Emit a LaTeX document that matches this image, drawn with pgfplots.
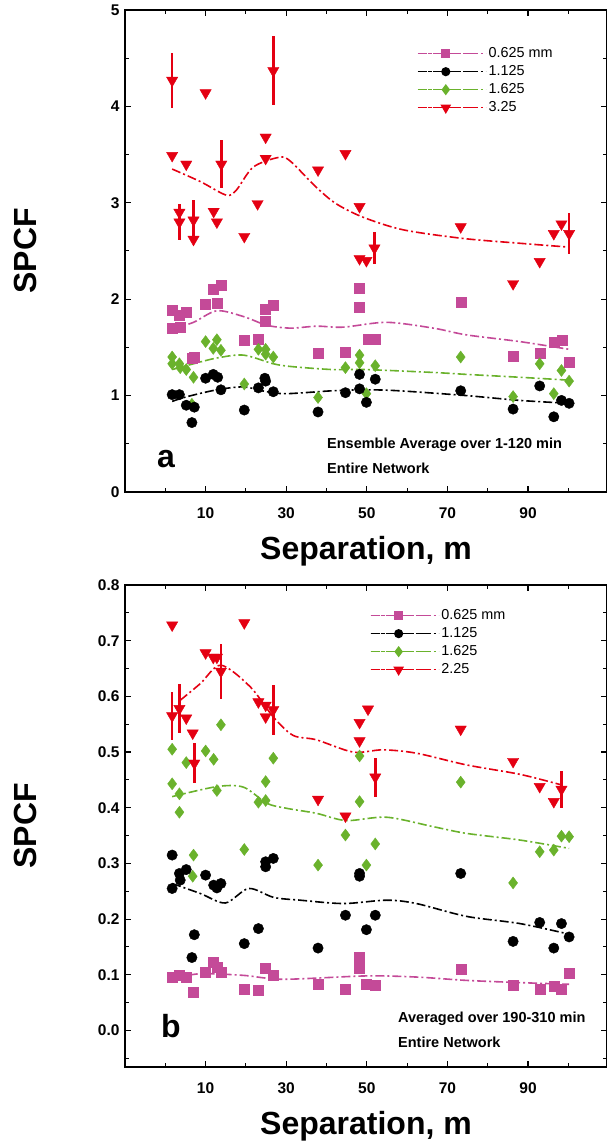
\documentclass[border=0pt]{standalone}
\usepackage{pgfplots}
\pgfplotsset{compat=1.18}
\usepackage{pgfplotstable}
\usepackage{fontspec}
\setmainfont{Liberation Sans}
\definecolor{cpink}{RGB}{196,74,152}
\definecolor{cgreen}{RGB}{106,178,44}
\definecolor{cred}{RGB}{228,0,18}

% ---------- panel a data ----------
\pgfplotstableread{
x y
1.7 1.89
1.7 1.70
3.7 1.71
3.5 1.83
5.2 1.86
6.6 1.39
7.2 1.40
10 1.95
12 2.10
13.8 2.15
12.8 1.96
19.6 1.57
23.1 1.59
24.7 1.90
24.9 1.77
26.8 1.94
37.9 1.44
44.7 1.45
48.2 2.11
48.1 1.92
50.3 1.58
52.1 1.58
73.3 1.97
86.3 1.41
92.9 1.44
96.4 1.55
98.5 1.57
100.2 1.35
}\aPink
\pgfplotstableread{
x y
1.7 1.01
3.5 1.01
5.2 0.90
7.2 0.88
6.6 0.72
10 1.18
11.9 1.22
13 1.19
13.8 1.06
19.6 0.85
23.1 1.08
24.7 1.18
24.9 1.15
26.8 1.04
37.9 0.83
44.7 1.03
48.2 1.22
48.2 1.07
49.9 0.93
52.1 1.17
73.3 1.05
86.3 0.86
92.9 1.10
96.4 0.78
98.3 0.95
100.2 0.92
}\aBlack
\pgfplotstableread{
x y
1.7 1.40
1.7 1.33
3.5 1.33
3.7 1.29
5.2 1.27
7.0 1.19
6.6 0.91
10 1.56
11.9 1.49
12.8 1.58
13.8 1.47
19.6 1.12
23.1 1.48
24.9 1.48
24.9 1.43
26.8 1.40
37.9 0.98
44.7 1.29
48.2 1.42
48.2 1.34
49.9 1.02
52.1 1.31
73.3 1.40
86.3 0.99
92.9 1.33
96.4 1.02
98.3 1.26
100.2 1.15
}\aGreen
\pgfplotstableread{
x y e
1.7 4.27 0.285
1.7 3.49 0
5.2 3.40 0
13.9 3.40 0.25
10 4.14 0
24.9 3.68 0
24.9 3.46 0
26.8 4.37 0.36
44.7 3.51 0
37.9 3.34 0
22.9 2.99 0
3.5 2.90 0
3.5 2.80 0.19
7.0 2.82 0.21
7.0 2.62 0
12 2.91 0
12.8 2.80 0
19.6 2.65 0
48.2 2.96 0
51.9 2.53 0.17
48.2 2.42 0
49.9 2.40 0
73.3 2.75 0
86.3 2.16 0
92.9 2.39 0
96.4 2.68 0
98.3 2.78 0
100.2 2.68 0.21
}\aRed

% ---------- panel b data ----------
\pgfplotstableread{
x y
1.7 0.096
3.5 0.099
5.2 0.096
6.8 0.068
10 0.105
12 0.123
12.8 0.114
13.8 0.105
19.6 0.075
23.1 0.072
24.7 0.112
26.8 0.099
37.9 0.083
44.7 0.074
48.2 0.132
48.2 0.111
49.9 0.083
52.1 0.081
73.3 0.110
86.3 0.081
92.9 0.075
96.4 0.080
98.3 0.075
100.2 0.103
}\bPink
\pgfplotstableread{
x y
1.7 0.315
1.7 0.255
3.5 0.282
3.7 0.270
5.2 0.289
7.2 0.172
6.6 0.131
10 0.279
12 0.261
12.8 0.256
13.8 0.264
19.6 0.156
23.1 0.183
24.9 0.303
24.9 0.294
26.8 0.309
37.9 0.148
44.7 0.207
48.2 0.282
48.2 0.277
49.9 0.181
52.1 0.207
73.3 0.282
86.3 0.160
92.9 0.194
96.4 0.148
98.3 0.192
100.2 0.168
}\bBlack
\pgfplotstableread{
x y
1.7 0.505
1.7 0.443
3.5 0.425
3.5 0.392
5.2 0.481
10 0.502
12 0.487
12.8 0.431
13.8 0.549
23.1 0.410
24.9 0.413
24.9 0.447
26.8 0.489
48.2 0.493
48.2 0.411
73.3 0.446
7.0 0.315
6.8 0.277
19.6 0.325
44.7 0.351
37.9 0.297
49.9 0.297
52.1 0.335
86.3 0.265
92.9 0.321
96.4 0.324
98.3 0.349
100.2 0.348
}\bGreen
\pgfplotstableread{
x y e
1.7 0.728 0
1.7 0.565 0.043
3.5 0.578 0.044
5.2 0.561 0
6.8 0.534 0
7.2 0.480 0.036
10 0.678 0
11.9 0.670 0
12.8 0.670 0
13.8 0.645 0.049
19.6 0.732 0
23.1 0.590 0
24.9 0.584 0
24.9 0.563 0
26.8 0.576 0.045
37.9 0.415 0
44.7 0.385 0
48.2 0.553 0
48.2 0.520 0
50.3 0.577 0
52.1 0.455 0.035
73.3 0.541 0
86.3 0.483 0
92.9 0.438 0
96.4 0.411 0
98.3 0.433 0.033
}\bRed

\pgfplotsset{
  legend image code/.code={
    \draw[#1, mark=none, line width=1.5pt, dash pattern=on 7pt off 3pt on 2pt off 3pt] (0pt,0pt) -- (56pt,0pt);
    \draw[#1, only marks, every mark/.append style={scale=0.72}] plot coordinates {(28pt,0pt)};
    \path (0pt,0pt) -- (68pt,0pt);
  },
  myaxis/.style={
    scale only axis, width=482pt,
    xmin=-10, xmax=109.6,
    xtick={10,30,50,70,90},
    minor xtick={0,20,40,60,80,100},
    axis line style={line width=2.4pt},
    major tick style={black, line width=1.2pt},
    minor tick style={black, line width=1.0pt},
    major tick length=6pt, minor tick length=4pt,
    tick align=inside,
    /pgf/number format/assume math mode=true,
    tick label style={font=\bfseries\fontsize{15.5}{18}\selectfont},
    xticklabel style={anchor=center, yshift=-21pt},
    yticklabel style={xshift=-2pt},
    xlabel={Separation, m},
    ylabel={SPCF},
    xlabel style={at={(axis description cs:0.5,0)}, anchor=base, yshift=-68pt, font=\bfseries\fontsize{32}{36}\selectfont},
    ylabel style={at={(axis description cs:-0.1836,0.5)}, anchor=base, rotate=0, font=\bfseries\fontsize{32}{36}\selectfont},
    legend cell align=left,
    legend style={draw=none, fill=none, inner sep=0pt, outer sep=0pt,
      font=\fontsize{14.4}{17}\selectfont, row sep=1pt,
      nodes={inner sep=2pt, text height=10pt, text depth=3pt}},
  },
  fitline/.style={line width=1.6pt, dash pattern=on 9pt off 3pt on 2pt off 3pt},
  fitcurve/.style={fitline, smooth, tension=0.5, mark=none},
  psq/.style={cpink, mark=square*, mark size=5pt, mark options={solid, fill=cpink, draw=cpink}},
  pci/.style={black, mark=*, mark size=5.2pt, mark options={solid, fill=black}},
  pdi/.style={cgreen, mark=diamond*, mark size=6pt, mark options={solid, fill=cgreen, draw=cgreen}},
  ptr/.style={cred, mark=triangle*, mark size=6.5pt, mark options={solid, rotate=180, fill=cred, draw=cred}},
}

\begin{document}
\begin{tikzpicture}
\path[use as bounding box] (0pt,0pt) rectangle (606pt,1141pt);

% ================= panel a =================
\begin{axis}[myaxis, at={(125pt,649pt)}, anchor=south west, height=482pt,
  ymin=0, ymax=5, ytick={0,1,2,3,4,5}, minor ytick={0.5,1.5,2.5,3.5,4.5},
  legend style={at={(axis description cs:0.6058,0.927)}, anchor=north west}]
\addlegendimage{psq, fitline}
\addlegendentry{0.625 mm}
\addlegendimage{pci, fitline}
\addlegendentry{1.125}
\addlegendimage{pdi, fitline}
\addlegendentry{1.625}
\addlegendimage{ptr, fitline}
\addlegendentry{3.25}

\addplot[psq, only marks, forget plot] table[x=x, y=y] {\aPink};
\addplot[pdi, only marks, forget plot] table[x=x, y=y] {\aGreen};
\addplot[pci, only marks, forget plot] table[x=x, y=y] {\aBlack};
\addplot[ptr, only marks, forget plot,
  error bars/.cd, y dir=both, y explicit, error mark=none,
  error bar style={line width=2.6pt, cred, solid}]
  table[x=x, y=y, y error=e] {\aRed};

\addplot[cpink, fitcurve, forget plot] coordinates {
(1.7,1.69) (7.0,1.76) (12.8,1.88) (19.4,1.82) (25.2,1.73) (31,1.70) (37.6,1.72)
(44.2,1.71) (54.9,1.76) (66.5,1.70) (74.7,1.63) (88,1.56) (100.2,1.48)};
\addplot[cgreen, fitcurve, forget plot] coordinates {
(1.7,1.27) (7,1.33) (12.8,1.39) (19.4,1.42) (26.8,1.33) (31.6,1.30) (41.5,1.27)
(49.7,1.27) (66.5,1.24) (74.7,1.22) (88,1.19) (100.2,1.16)};
\addplot[black, fitcurve, forget plot] coordinates {
(1.7,0.94) (5.5,0.99) (12.8,1.06) (19.4,1.09) (25.2,1.04) (30.1,1.02) (41.5,1.05)
(49.7,1.06) (58,1.05) (74.7,1.00) (88,0.95) (100.2,0.92)};
\addplot[cred, fitcurve, forget plot] coordinates {
(1.7,3.35) (8.7,3.22) (15.1,3.08) (17.6,3.13) (21.8,3.37) (28,3.47) (30.8,3.44)
(37.5,3.16) (42.4,2.99) (49.1,2.85) (59,2.72) (73.9,2.63) (88,2.58) (100.2,2.54)};
\end{axis}

% ================= panel b =================
\begin{axis}[myaxis, at={(125pt,74.3pt)}, anchor=south west, height=481.7pt,
  ymin=-0.065, ymax=0.8, ytick={0,0.1,0.2,0.3,0.4,0.5,0.6,0.7,0.8},
  minor ytick={-0.05,0.05,0.15,0.25,0.35,0.45,0.55,0.65,0.75},
  yticklabel style={/pgf/number format/.cd, fixed, fixed zerofill, precision=1},
  legend style={at={(axis description cs:0.508,0.954)}, anchor=north west}]
\addlegendimage{psq, fitline}
\addlegendentry{0.625 mm}
\addlegendimage{pci, fitline}
\addlegendentry{1.125}
\addlegendimage{pdi, fitline}
\addlegendentry{1.625}
\addlegendimage{ptr, fitline}
\addlegendentry{2.25}

\addplot[psq, only marks, forget plot] table[x=x, y=y] {\bPink};
\addplot[pdi, only marks, forget plot] table[x=x, y=y] {\bGreen};
\addplot[pci, only marks, forget plot] table[x=x, y=y] {\bBlack};
\addplot[ptr, only marks, forget plot,
  error bars/.cd, y dir=both, y explicit, error mark=none,
  error bar style={line width=2.6pt, cred, solid}]
  table[x=x, y=y, y error=e] {\bRed};

\addplot[cpink, fitcurve, forget plot] coordinates {
(1.7,0.093) (8.7,0.102) (19.4,0.099) (29.3,0.092) (49.7,0.098) (62.3,0.096)
(74.7,0.090) (88,0.086) (100.2,0.083)};
\addplot[cgreen, fitcurve, forget plot] coordinates {
(1.7,0.420) (12.8,0.438) (19.4,0.437) (25.2,0.408) (30.1,0.399) (37.5,0.390)
(44.9,0.377) (54.9,0.383) (66.5,0.366) (74.7,0.354) (88,0.342) (100.2,0.327)};
\addplot[black, fitcurve, forget plot] coordinates {
(1.7,0.264) (8.7,0.246) (14.9,0.229) (20.7,0.255) (26.9,0.239) (33.5,0.234)
(44.2,0.228) (54.9,0.234) (62.3,0.228) (74.7,0.205) (88,0.192) (100.2,0.173)};
\addplot[cred, fitcurve, forget plot] coordinates {
(3.7,0.593) (8.7,0.623) (13.8,0.656) (21.1,0.617) (26.8,0.563) (31.7,0.530)
(37.5,0.522) (46.6,0.500) (54,0.504) (62.3,0.498) (74.7,0.477) (88,0.460) (98.3,0.441)};
\end{axis}

% annotations
\node[anchor=base, font=\bfseries\fontsize{32}{36}\selectfont] at (166pt,673pt) {a};
\node[anchor=west, font=\bfseries\fontsize{14.5}{17}\selectfont, inner sep=0pt] at (327pt,696pt) {Ensemble Average over 1-120 min};
\node[anchor=west, font=\bfseries\fontsize{14.5}{17}\selectfont, inner sep=0pt] at (327pt,673pt) {Entire Network};
\node[anchor=base, font=\bfseries\fontsize{32}{36}\selectfont] at (171pt,103pt) {b};
\node[anchor=west, font=\bfseries\fontsize{14.5}{17}\selectfont, inner sep=0pt] at (398pt,122pt) {Averaged over 190-310 min};
\node[anchor=west, font=\bfseries\fontsize{14.5}{17}\selectfont, inner sep=0pt] at (398pt,99pt) {Entire Network};
\end{tikzpicture}
\end{document}
